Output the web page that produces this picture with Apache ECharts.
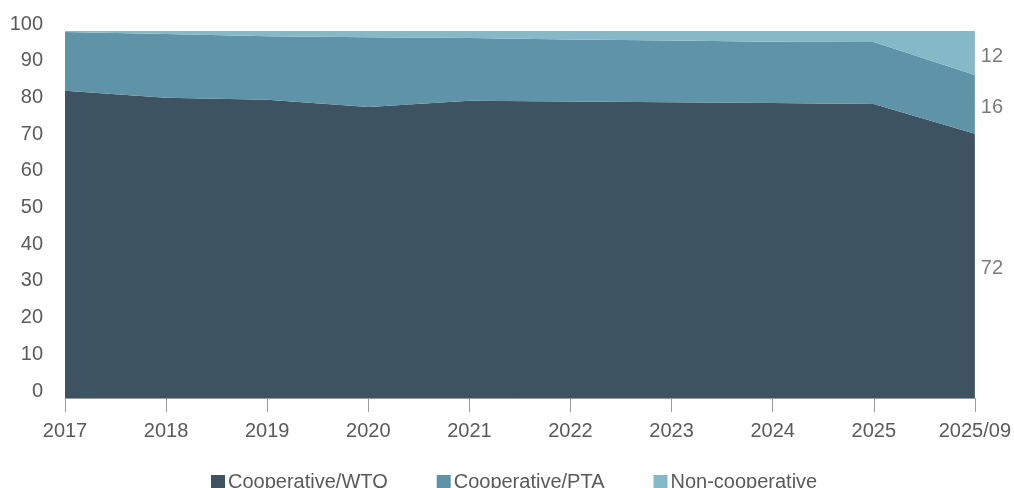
<!DOCTYPE html>
<html>
<head>
<meta charset="utf-8">
<script src="https://cdn.jsdelivr.net/npm/echarts@6/dist/echarts.min.js"></script>
<style>
  html, body { margin: 0; padding: 0; background: #ffffff; }
  #chart { width: 1014px; height: 488px; }
</style>
</head>
<body>
<div id="chart"></div>
<script>
// Share of trade by regime (%), stacked to 100
const categories = ['2017', '2018', '2019', '2020', '2021', '2022', '2023', '2024', '2025', '2025/09'];
const cooperativeWTO = [83.7, 81.8, 81.3, 79.3, 81.0, 80.8, 80.6, 80.4, 80.1, 72];
const cooperativePTA = [16.0, 17.4, 17.3, 19.0, 17.1, 16.9, 16.8, 16.7, 16.9, 16];
const nonCooperative = [0.3, 0.8, 1.4, 1.7, 1.9, 2.3, 2.6, 2.9, 3.0, 12];
const yTicks = { min: 0, max: 100, interval: 10 };

const seriesNames = ['Cooperative/WTO', 'Cooperative/PTA', 'Non-cooperative'];
const seriesColors = ['#3d5361', '#5e93a8', '#86b9c8'];
const seriesData = [cooperativeWTO, cooperativePTA, nonCooperative];

const FONT = "'Liberation Sans', Arial, sans-serif";
const TEXT = '#5a5a5a';
const FS = 20;

// End-of-series value labels, placed at the middle of each band on the last category
const last = categories.length - 1;
const endLabelPoints = [];
let base = 0;
seriesData.forEach(arr => {
  const v = arr[last];
  endLabelPoints.push({ value: [categories[last], base + v / 2], shown: v });
  base += v;
});

const series = seriesData.map((arr, i) => ({
  name: seriesNames[i],
  type: 'line',
  stack: 'total',
  data: arr,
  symbol: 'none',
  lineStyle: { width: 0 },
  areaStyle: { color: seriesColors[i], opacity: 1 },
  itemStyle: { color: seriesColors[i] },
  emphasis: { disabled: true }
}));

series.push({
  type: 'scatter',
  data: endLabelPoints,
  symbolSize: 0,
  silent: true,
  label: {
    show: true,
    position: 'right',
    distance: 6,
    offset: [0, 3],
    color: TEXT,
    fontFamily: FONT,
    fontSize: FS,
    formatter: p => String(p.data.shown)
  }
});

const chart = echarts.init(document.getElementById('chart'), null, { renderer: 'canvas' });
chart.setOption({
  animation: false,
  backgroundColor: '#ffffff',
  grid: { left: 65, right: 39, top: 31, bottom: 90, containLabel: false },
  legend: {
    data: seriesNames,
    left: 206,
    top: 467,
    itemWidth: 14,
    itemHeight: 14,
    itemGap: 49,
    icon: 'rect',
    textStyle: { color: TEXT, fontFamily: FONT, fontSize: FS, padding: [0, 0, 0, -2] }
  },
  xAxis: {
    type: 'category',
    data: categories,
    boundaryGap: false,
    axisLine: { show: true, lineStyle: { color: '#9a9a9a', width: 1 } },
    axisTick: { show: true, length: 14, lineStyle: { color: '#9a9a9a' } },
    axisLabel: { color: TEXT, fontFamily: FONT, fontSize: FS, margin: 23, interval: 0 },
    splitLine: { show: false }
  },
  yAxis: {
    type: 'value',
    min: yTicks.min,
    max: yTicks.max,
    interval: yTicks.interval,
    axisLine: { show: false },
    axisTick: { show: false },
    axisLabel: {
      color: TEXT, fontFamily: FONT, fontSize: FS, margin: 22,
      verticalAlign: 'bottom', lineHeight: 14
    },
    splitLine: { show: true, lineStyle: { color: '#cccccc', type: 'dashed', width: 1 } }
  },
  series: series
});
</script>
</body>
</html>
